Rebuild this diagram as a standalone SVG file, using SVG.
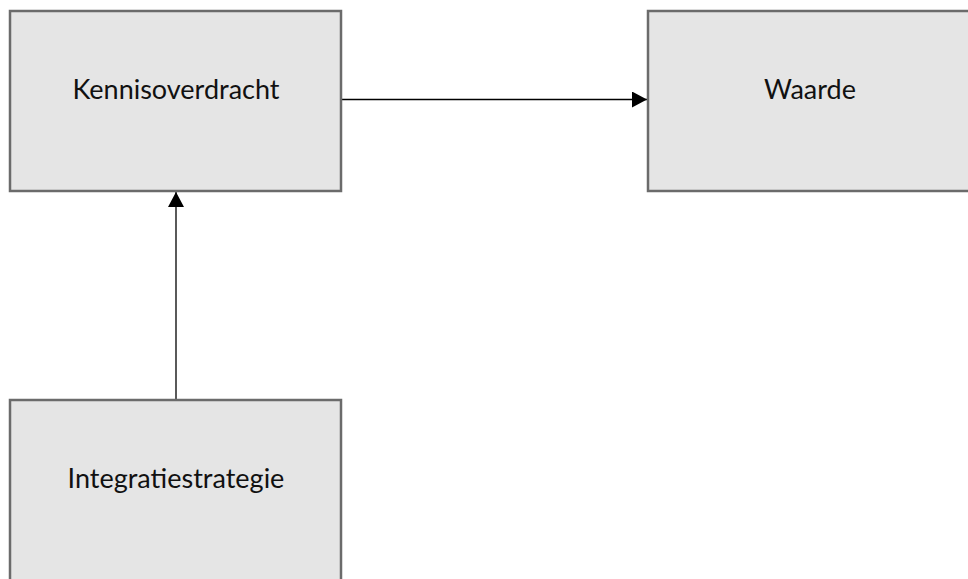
<svg xmlns="http://www.w3.org/2000/svg" width="968" height="579" viewBox="0 0 968 579">
<defs>
<style>
.box{fill:#e5e5e5;stroke:#6b6b6b;stroke-width:2.5}
.lbl{font-family:Lato,"Open Sans","Liberation Sans",sans-serif;font-size:27px;fill:#111;text-anchor:middle}
.con{stroke:#000;stroke-width:1.3;fill:none}
</style>
<marker id="ah" viewBox="0 0 15 16" refX="15" refY="8" markerWidth="15" markerHeight="16" markerUnits="userSpaceOnUse" orient="auto">
<path d="M0,0 L15,8 L0,16 Z" fill="#000"/>
</marker>
</defs>
<rect width="968" height="579" fill="#fff"/>
<g id="connectors">
<line class="con" x1="342" y1="99.5" x2="647" y2="99.5" marker-end="url(#ah)"/>
<line class="con" x1="176" y1="400" x2="176" y2="192" marker-end="url(#ah)"/>
</g>
<g id="node-kennisoverdracht">
<rect class="box" x="10" y="11" width="331" height="180"/>
<text class="lbl" x="176" y="99">Kennisoverdracht</text>
</g>
<g id="node-waarde">
<rect class="box" x="648" y="11" width="340" height="180"/>
<text class="lbl" x="810" y="99">Waarde</text>
</g>
<g id="node-integratiestrategie">
<rect class="box" x="10" y="400" width="331" height="200"/>
<text class="lbl" x="176" y="488">Integratiestrategie</text>
</g>
</svg>
